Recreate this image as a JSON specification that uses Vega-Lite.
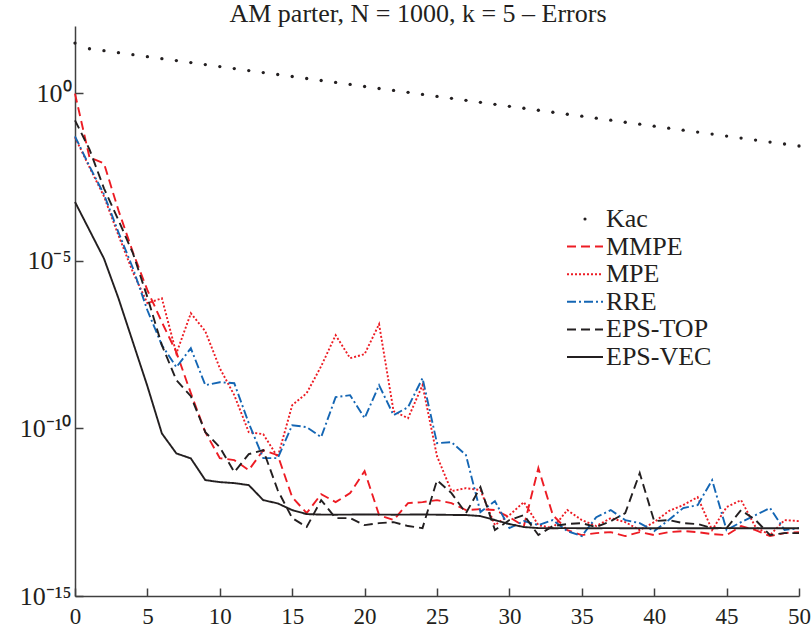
{
 "$schema": "https://vega.github.io/schema/vega-lite/v6.json",
 "width": 724, "height": 570,
 "autosize": {"type": "none"},
 "padding": {"left": 75, "top": 26, "right": 13, "bottom": 34},
 "background": "white",
 "title": {"text": "AM parter, N = 1000, k = 5 – Errors", "font": "Liberation Serif", "fontSize": 26, "fontWeight": "normal", "color": "#231f20", "anchor": "middle", "baseline": "alphabetic", "offset": 0, "dx": -19, "dy": 22},
 "config": {"view": {"stroke": null}, "axis": {"grid": false}},
 "datasets": {
  "errs": [
   {"s":"Kac","i":0,"v":31},{"s":"Kac","i":1,"v":21.0},{"s":"Kac","i":2,"v":18.4},{"s":"Kac","i":3,"v":16.0},{"s":"Kac","i":4,"v":14.0},{"s":"Kac","i":5,"v":12.2},{"s":"Kac","i":6,"v":10.6},{"s":"Kac","i":7,"v":9.29},{"s":"Kac","i":8,"v":8.10},{"s":"Kac","i":9,"v":7.06},{"s":"Kac","i":10,"v":6.17},{"s":"Kac","i":11,"v":5.38},{"s":"Kac","i":12,"v":4.69},{"s":"Kac","i":13,"v":4.09},{"s":"Kac","i":14,"v":3.57},{"s":"Kac","i":15,"v":3.12},{"s":"Kac","i":16,"v":2.72},{"s":"Kac","i":17,"v":2.37},{"s":"Kac","i":18,"v":2.07},{"s":"Kac","i":19,"v":1.81},{"s":"Kac","i":20,"v":1.57},{"s":"Kac","i":21,"v":1.37},{"s":"Kac","i":22,"v":1.20},{"s":"Kac","i":23,"v":1.05},{"s":"Kac","i":24,"v":0.913},{"s":"Kac","i":25,"v":0.796},{"s":"Kac","i":26,"v":0.695},{"s":"Kac","i":27,"v":0.607},{"s":"Kac","i":28,"v":0.529},{"s":"Kac","i":29,"v":0.462},{"s":"Kac","i":30,"v":0.403},{"s":"Kac","i":31,"v":0.352},{"s":"Kac","i":32,"v":0.307},{"s":"Kac","i":33,"v":0.268},{"s":"Kac","i":34,"v":0.233},{"s":"Kac","i":35,"v":0.204},{"s":"Kac","i":36,"v":0.178},{"s":"Kac","i":37,"v":0.155},{"s":"Kac","i":38,"v":0.135},{"s":"Kac","i":39,"v":0.118},{"s":"Kac","i":40,"v":0.103},{"s":"Kac","i":41,"v":0.0899},{"s":"Kac","i":42,"v":0.0784},{"s":"Kac","i":43,"v":0.0684},{"s":"Kac","i":44,"v":0.0597},{"s":"Kac","i":45,"v":0.0521},{"s":"Kac","i":46,"v":0.0455},{"s":"Kac","i":47,"v":0.0396},{"s":"Kac","i":48,"v":0.0346},{"s":"Kac","i":49,"v":0.0302},{"s":"Kac","i":50,"v":0.0264},

   {"s":"MMPE","i":0,"v":0.96},{"s":"MMPE","i":1,"v":1.21e-2},{"s":"MMPE","i":2,"v":8.03e-3},{"s":"MMPE","i":3,"v":3.19e-4},{"s":"MMPE","i":4,"v":1.79e-5},{"s":"MMPE","i":5,"v":1.32e-6},{"s":"MMPE","i":6,"v":1.46e-7},{"s":"MMPE","i":7,"v":1.87e-8},{"s":"MMPE","i":8,"v":1.12e-9},{"s":"MMPE","i":9,"v":7.71e-11},{"s":"MMPE","i":10,"v":1.29e-11},{"s":"MMPE","i":11,"v":1.13e-11},{"s":"MMPE","i":12,"v":5.68e-12},{"s":"MMPE","i":13,"v":2.24e-11},{"s":"MMPE","i":14,"v":1.59e-11},{"s":"MMPE","i":15,"v":8.89e-13},{"s":"MMPE","i":16,"v":2.96e-13},{"s":"MMPE","i":17,"v":1.09e-12},{"s":"MMPE","i":18,"v":6.31e-13},{"s":"MMPE","i":19,"v":1.17e-12},{"s":"MMPE","i":20,"v":5.31e-12},{"s":"MMPE","i":21,"v":2.59e-13},{"s":"MMPE","i":22,"v":1.84e-13},{"s":"MMPE","i":23,"v":5.89e-13},{"s":"MMPE","i":24,"v":6.31e-13},{"s":"MMPE","i":25,"v":7.24e-13},{"s":"MMPE","i":26,"v":5.89e-13},{"s":"MMPE","i":27,"v":3.65e-13},{"s":"MMPE","i":28,"v":3.91e-13},{"s":"MMPE","i":29,"v":3.65e-13},{"s":"MMPE","i":30,"v":2.25e-13},{"s":"MMPE","i":31,"v":1.22e-13},{"s":"MMPE","i":32,"v":6.52e-12},{"s":"MMPE","i":33,"v":2.59e-13},{"s":"MMPE","i":34,"v":9.24e-14},{"s":"MMPE","i":35,"v":6.56e-14},{"s":"MMPE","i":36,"v":7.52e-14},{"s":"MMPE","i":37,"v":8.04e-14},{"s":"MMPE","i":38,"v":6.12e-14},{"s":"MMPE","i":39,"v":8.04e-14},{"s":"MMPE","i":40,"v":6.56e-14},{"s":"MMPE","i":41,"v":8.04e-14},{"s":"MMPE","i":42,"v":8.63e-14},{"s":"MMPE","i":43,"v":8.04e-14},{"s":"MMPE","i":44,"v":7.02e-14},{"s":"MMPE","i":45,"v":6.56e-14},{"s":"MMPE","i":46,"v":1.22e-13},{"s":"MMPE","i":47,"v":9.24e-14},{"s":"MMPE","i":48,"v":6.12e-14},{"s":"MMPE","i":49,"v":7.52e-14},{"s":"MMPE","i":50,"v":8.04e-14},

   {"s":"MPE","i":0,"v":4.78e-2},{"s":"MPE","i":1,"v":6.10e-3},{"s":"MPE","i":2,"v":8.34e-4},{"s":"MPE","i":3,"v":5.74e-5},{"s":"MPE","i":4,"v":4.53e-6},{"s":"MPE","i":5,"v":5.40e-7},{"s":"MPE","i":6,"v":7.60e-7},{"s":"MPE","i":7,"v":1.71e-8},{"s":"MPE","i":8,"v":2.71e-7},{"s":"MPE","i":9,"v":7.88e-8},{"s":"MPE","i":10,"v":6.22e-9},{"s":"MPE","i":11,"v":9.77e-10},{"s":"MPE","i":12,"v":7.71e-11},{"s":"MPE","i":13,"v":6.71e-11},{"s":"MPE","i":14,"v":1.39e-11},{"s":"MPE","i":15,"v":4.91e-10},{"s":"MPE","i":16,"v":1.12e-9},{"s":"MPE","i":17,"v":7.14e-9},{"s":"MPE","i":18,"v":6.00e-8},{"s":"MPE","i":19,"v":1.24e-8},{"s":"MPE","i":20,"v":1.63e-8},{"s":"MPE","i":21,"v":1.28e-7},{"s":"MPE","i":22,"v":3.26e-10},{"s":"MPE","i":23,"v":2.01e-10},{"s":"MPE","i":24,"v":1.94e-9},{"s":"MPE","i":25,"v":1.48e-11},{"s":"MPE","i":26,"v":1.34e-12},{"s":"MPE","i":27,"v":1.65e-12},{"s":"MPE","i":28,"v":1.44e-12},{"s":"MPE","i":29,"v":1.30e-13},{"s":"MPE","i":30,"v":2.59e-13},{"s":"MPE","i":31,"v":6.31e-13},{"s":"MPE","i":32,"v":1.30e-13},{"s":"MPE","i":33,"v":1.06e-13},{"s":"MPE","i":34,"v":3.65e-13},{"s":"MPE","i":35,"v":1.84e-13},{"s":"MPE","i":36,"v":1.22e-13},{"s":"MPE","i":37,"v":2.10e-13},{"s":"MPE","i":38,"v":1.60e-13},{"s":"MPE","i":39,"v":9.24e-14},{"s":"MPE","i":40,"v":1.60e-13},{"s":"MPE","i":41,"v":3.40e-13},{"s":"MPE","i":42,"v":5.14e-13},{"s":"MPE","i":43,"v":8.89e-13},{"s":"MPE","i":44,"v":9.24e-14},{"s":"MPE","i":45,"v":4.49e-13},{"s":"MPE","i":46,"v":7.24e-13},{"s":"MPE","i":47,"v":1.14e-13},{"s":"MPE","i":48,"v":6.56e-14},{"s":"MPE","i":49,"v":1.84e-13},{"s":"MPE","i":50,"v":1.71e-13},

   {"s":"RRE","i":0,"v":5.12e-2},{"s":"RRE","i":1,"v":6.53e-3},{"s":"RRE","i":2,"v":9.57e-4},{"s":"RRE","i":3,"v":7.05e-5},{"s":"RRE","i":4,"v":5.96e-6},{"s":"RRE","i":5,"v":3.33e-7},{"s":"RRE","i":6,"v":3.02e-8},{"s":"RRE","i":7,"v":6.67e-9},{"s":"RRE","i":8,"v":2.45e-8},{"s":"RRE","i":9,"v":1.94e-9},{"s":"RRE","i":10,"v":2.38e-9},{"s":"RRE","i":11,"v":2.22e-9},{"s":"RRE","i":12,"v":1.43e-10},{"s":"RRE","i":13,"v":1.29e-11},{"s":"RRE","i":14,"v":1.29e-11},{"s":"RRE","i":15,"v":1.24e-10},{"s":"RRE","i":16,"v":1.09e-10},{"s":"RRE","i":17,"v":5.47e-11},{"s":"RRE","i":18,"v":8.51e-10},{"s":"RRE","i":19,"v":9.77e-10},{"s":"RRE","i":20,"v":2.01e-10},{"s":"RRE","i":21,"v":1.94e-9},{"s":"RRE","i":22,"v":2.47e-10},{"s":"RRE","i":23,"v":4.28e-10},{"s":"RRE","i":24,"v":3.13e-9},{"s":"RRE","i":25,"v":3.62e-11},{"s":"RRE","i":26,"v":3.88e-11},{"s":"RRE","i":27,"v":1.59e-11},{"s":"RRE","i":28,"v":3.18e-13},{"s":"RRE","i":29,"v":6.76e-13},{"s":"RRE","i":30,"v":1.06e-13},{"s":"RRE","i":31,"v":1.71e-13},{"s":"RRE","i":32,"v":1.30e-13},{"s":"RRE","i":33,"v":1.84e-13},{"s":"RRE","i":34,"v":8.63e-14},{"s":"RRE","i":35,"v":6.12e-14},{"s":"RRE","i":36,"v":2.25e-13},{"s":"RRE","i":37,"v":3.65e-13},{"s":"RRE","i":38,"v":1.84e-13},{"s":"RRE","i":39,"v":1.49e-13},{"s":"RRE","i":40,"v":8.63e-14},{"s":"RRE","i":41,"v":1.84e-13},{"s":"RRE","i":42,"v":4.19e-13},{"s":"RRE","i":43,"v":5.14e-13},{"s":"RRE","i":44,"v":2.86e-12},{"s":"RRE","i":45,"v":9.24e-14},{"s":"RRE","i":46,"v":1.60e-13},{"s":"RRE","i":47,"v":2.59e-13},{"s":"RRE","i":48,"v":4.19e-13},{"s":"RRE","i":49,"v":9.24e-14},{"s":"RRE","i":50,"v":1.06e-13},

   {"s":"EPS-TOP","i":0,"v":0.153},{"s":"EPS-TOP","i":1,"v":2.10e-2},{"s":"EPS-TOP","i":2,"v":1.44e-3},{"s":"EPS-TOP","i":3,"v":1.61e-4},{"s":"EPS-TOP","i":4,"v":1.67e-5},{"s":"EPS-TOP","i":5,"v":8.14e-7},{"s":"EPS-TOP","i":6,"v":3.02e-8},{"s":"EPS-TOP","i":7,"v":2.74e-9},{"s":"EPS-TOP","i":8,"v":9.12e-10},{"s":"EPS-TOP","i":9,"v":7.71e-11},{"s":"EPS-TOP","i":10,"v":2.75e-11},{"s":"EPS-TOP","i":11,"v":4.95e-12},{"s":"EPS-TOP","i":12,"v":1.70e-11},{"s":"EPS-TOP","i":13,"v":2.24e-11},{"s":"EPS-TOP","i":14,"v":1.44e-12},{"s":"EPS-TOP","i":15,"v":2.10e-13},{"s":"EPS-TOP","i":16,"v":1.14e-13},{"s":"EPS-TOP","i":17,"v":7.24e-13},{"s":"EPS-TOP","i":18,"v":2.10e-13},{"s":"EPS-TOP","i":19,"v":2.10e-13},{"s":"EPS-TOP","i":20,"v":1.30e-13},{"s":"EPS-TOP","i":21,"v":1.49e-13},{"s":"EPS-TOP","i":22,"v":1.60e-13},{"s":"EPS-TOP","i":23,"v":1.22e-13},{"s":"EPS-TOP","i":24,"v":1.06e-13},{"s":"EPS-TOP","i":25,"v":2.86e-12},{"s":"EPS-TOP","i":26,"v":1.17e-12},{"s":"EPS-TOP","i":27,"v":2.96e-13},{"s":"EPS-TOP","i":28,"v":1.77e-12},{"s":"EPS-TOP","i":29,"v":9.24e-14},{"s":"EPS-TOP","i":30,"v":1.84e-13},{"s":"EPS-TOP","i":31,"v":2.59e-13},{"s":"EPS-TOP","i":32,"v":6.56e-14},{"s":"EPS-TOP","i":33,"v":1.22e-13},{"s":"EPS-TOP","i":34,"v":1.40e-13},{"s":"EPS-TOP","i":35,"v":1.49e-13},{"s":"EPS-TOP","i":36,"v":1.14e-13},{"s":"EPS-TOP","i":37,"v":1.71e-13},{"s":"EPS-TOP","i":38,"v":2.96e-13},{"s":"EPS-TOP","i":39,"v":4.62e-12},{"s":"EPS-TOP","i":40,"v":1.71e-13},{"s":"EPS-TOP","i":41,"v":1.84e-13},{"s":"EPS-TOP","i":42,"v":1.49e-13},{"s":"EPS-TOP","i":43,"v":1.40e-13},{"s":"EPS-TOP","i":44,"v":1.06e-13},{"s":"EPS-TOP","i":45,"v":1.06e-13},{"s":"EPS-TOP","i":46,"v":3.65e-13},{"s":"EPS-TOP","i":47,"v":1.84e-13},{"s":"EPS-TOP","i":48,"v":6.56e-14},{"s":"EPS-TOP","i":49,"v":7.52e-14},{"s":"EPS-TOP","i":50,"v":7.52e-14},

   {"s":"EPS-VEC","i":0,"v":5.64e-4},{"s":"EPS-VEC","i":1,"v":8.09e-5},{"s":"EPS-VEC","i":2,"v":1.16e-5},{"s":"EPS-VEC","i":3,"v":7.60e-7},{"s":"EPS-VEC","i":4,"v":3.71e-8},{"s":"EPS-VEC","i":5,"v":1.81e-9},{"s":"EPS-VEC","i":6,"v":7.05e-11},{"s":"EPS-VEC","i":7,"v":1.79e-11},{"s":"EPS-VEC","i":8,"v":1.27e-11},{"s":"EPS-VEC","i":9,"v":2.86e-12},{"s":"EPS-VEC","i":10,"v":2.49e-12},{"s":"EPS-VEC","i":11,"v":2.33e-12},{"s":"EPS-VEC","i":12,"v":2.03e-12},{"s":"EPS-VEC","i":13,"v":7.24e-13},{"s":"EPS-VEC","i":14,"v":5.78e-13},{"s":"EPS-VEC","i":15,"v":3.65e-13},{"s":"EPS-VEC","i":16,"v":2.77e-13},{"s":"EPS-VEC","i":17,"v":2.68e-13},{"s":"EPS-VEC","i":18,"v":2.66e-13},{"s":"EPS-VEC","i":19,"v":2.68e-13},{"s":"EPS-VEC","i":20,"v":2.70e-13},{"s":"EPS-VEC","i":21,"v":2.68e-13},{"s":"EPS-VEC","i":22,"v":2.66e-13},{"s":"EPS-VEC","i":23,"v":2.68e-13},{"s":"EPS-VEC","i":24,"v":2.70e-13},{"s":"EPS-VEC","i":25,"v":2.66e-13},{"s":"EPS-VEC","i":26,"v":2.62e-13},{"s":"EPS-VEC","i":27,"v":2.60e-13},{"s":"EPS-VEC","i":28,"v":2.42e-13},{"s":"EPS-VEC","i":29,"v":1.84e-13},{"s":"EPS-VEC","i":30,"v":1.40e-13},{"s":"EPS-VEC","i":31,"v":1.14e-13},{"s":"EPS-VEC","i":32,"v":1.06e-13},{"s":"EPS-VEC","i":33,"v":1.05e-13},{"s":"EPS-VEC","i":34,"v":1.06e-13},{"s":"EPS-VEC","i":35,"v":1.05e-13},{"s":"EPS-VEC","i":36,"v":1.05e-13},{"s":"EPS-VEC","i":37,"v":1.06e-13},{"s":"EPS-VEC","i":38,"v":1.05e-13},{"s":"EPS-VEC","i":39,"v":1.05e-13},{"s":"EPS-VEC","i":40,"v":1.05e-13},{"s":"EPS-VEC","i":41,"v":1.06e-13},{"s":"EPS-VEC","i":42,"v":1.05e-13},{"s":"EPS-VEC","i":43,"v":1.05e-13},{"s":"EPS-VEC","i":44,"v":1.05e-13},{"s":"EPS-VEC","i":45,"v":1.06e-13},{"s":"EPS-VEC","i":46,"v":1.05e-13},{"s":"EPS-VEC","i":47,"v":1.05e-13},{"s":"EPS-VEC","i":48,"v":1.05e-13},{"s":"EPS-VEC","i":49,"v":1.05e-13},{"s":"EPS-VEC","i":50,"v":1.05e-13}
  ]
 },
 "data": {"name": "errs"},
 "encoding": {
  "x": {"field": "i", "type": "quantitative", "scale": {"domain": [0, 50], "nice": false, "zero": false},
   "axis": {"values": [0,5,10,15,20,25,30,35,40,45,50], "title": null, "tickSize": -8, "tickWidth": 1.5, "tickColor": "#404040", "domainColor": "#404040", "domainWidth": 1.5, "labelFont": "Liberation Serif", "labelFontSize": 23, "labelColor": "#231f20", "labelPadding": 17, "labelFlush": false, "labelOverlap": false}},
  "y": {"field": "v", "type": "quantitative", "scale": {"type": "log", "domain": [1e-15, 100], "nice": false},
   "axis": {"values": [1e-15, 1e-10, 1e-5, 1], "title": null, "tickSize": -8, "tickWidth": 1.5, "tickColor": "#404040", "domainColor": "#404040", "domainWidth": 1.5, "labelFont": "Liberation Serif", "labelFontSize": 26, "labelColor": "#231f20", "labelPadding": 12, "labelOverlap": false,
    "labelExpr": "datum.value > 0.5 ? '10⁰' : datum.value > 1e-6 ? '10⁻⁵' : datum.value > 1e-11 ? '10⁻¹⁰' : '10⁻¹⁵'"}}
 },
 "layer": [
  {
   "transform": [{"filter": "datum.s !== 'Kac'"}],
   "mark": {"type": "line", "strokeWidth": 1.9},
   "encoding": {
    "color": {"field": "s", "type": "nominal", "title": null,
     "scale": {"domain": ["Kac","MMPE","MPE","RRE","EPS-TOP","EPS-VEC"], "range": ["#231f20","#ed1c24","#ed1c24","#1466b4","#231f20","#231f20"]},
     "legend": {"orient": "none", "legendX": 497, "legendY": 180, "symbolType": "stroke", "symbolSize": 1296, "symbolStrokeWidth": 2, "labelFont": "Liberation Serif", "labelFontSize": 26, "labelColor": "#231f20", "rowPadding": 1.6, "labelOffset": 8, "padding": 0,
      "encode": {"symbols": {"update": {"shape": {"signal": "datum.value === 'Kac' ? 'circle' : 'stroke'"}, "size": {"signal": "datum.value === 'Kac' ? 10 : 1296"}, "fill": {"signal": "datum.value === 'Kac' ? '#231f20' : 'transparent'"}, "strokeWidth": {"signal": "datum.value === 'Kac' ? 0 : 2"}}}}}},
    "strokeDash": {"field": "s", "type": "nominal", "title": null,
     "scale": {"domain": ["Kac","MMPE","MPE","RRE","EPS-TOP","EPS-VEC"], "range": [[1,0],[9,5],[2,2],[9,3,2,3],[9,5],[1,0]]},
     "legend": {"orient": "none", "legendX": 497, "legendY": 180, "symbolType": "stroke", "symbolSize": 1296, "symbolStrokeWidth": 2, "labelFont": "Liberation Serif", "labelFontSize": 26, "labelColor": "#231f20", "rowPadding": 1.6, "labelOffset": 8, "padding": 0,
      "encode": {"symbols": {"update": {"shape": {"signal": "datum.value === 'Kac' ? 'circle' : 'stroke'"}, "size": {"signal": "datum.value === 'Kac' ? 10 : 1296"}, "fill": {"signal": "datum.value === 'Kac' ? '#231f20' : 'transparent'"}, "strokeWidth": {"signal": "datum.value === 'Kac' ? 0 : 2"}}}}}}
   }
  },
  {
   "transform": [{"filter": "datum.s === 'Kac'"}],
   "mark": {"type": "circle", "size": 11, "opacity": 1},
   "encoding": {
    "color": {"field": "s", "type": "nominal", "title": null,
     "scale": {"domain": ["Kac","MMPE","MPE","RRE","EPS-TOP","EPS-VEC"], "range": ["#231f20","#ed1c24","#ed1c24","#1466b4","#231f20","#231f20"]},
     "legend": {"orient": "none", "legendX": 497, "legendY": 180, "symbolType": "stroke", "symbolSize": 1296, "symbolStrokeWidth": 2, "labelFont": "Liberation Serif", "labelFontSize": 26, "labelColor": "#231f20", "rowPadding": 1.6, "labelOffset": 8, "padding": 0,
      "encode": {"symbols": {"update": {"shape": {"signal": "datum.value === 'Kac' ? 'circle' : 'stroke'"}, "size": {"signal": "datum.value === 'Kac' ? 10 : 1296"}, "fill": {"signal": "datum.value === 'Kac' ? '#231f20' : 'transparent'"}, "strokeWidth": {"signal": "datum.value === 'Kac' ? 0 : 2"}}}}}}
   }
  }
 ]
}
